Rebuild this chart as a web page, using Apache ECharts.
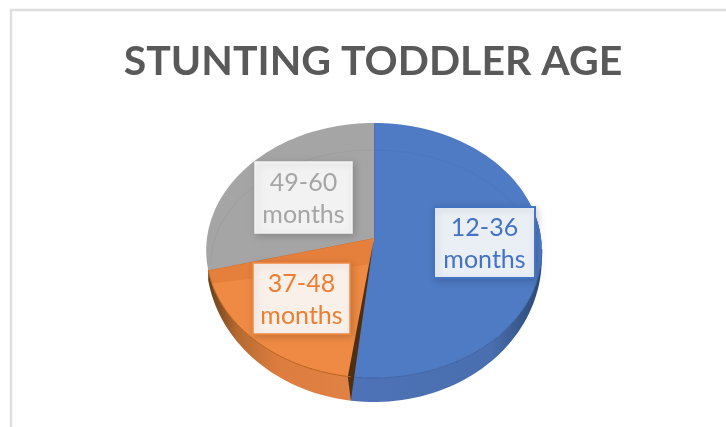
<!DOCTYPE html>
<html>
<head>
<meta charset="utf-8">
<style>
  html, body { margin: 0; padding: 0; background: #fff; }
  #chart { width: 726px; height: 427px; }
</style>
</head>
<body>
<div id="chart"></div>
<script src="https://cdn.jsdelivr.net/npm/echarts@6/dist/echarts.min.js"></script>
<script>
const categories = ["12-36 months", "37-48 months", "49-60 months"];
const shares = [52, 19, 29];

const topColors = ["#4f7bc5", "#e5803c", "#a5a5a5"];
const labelColors = ["#4472c4", "#ed7d31", "#a5a5a5"];
// x, y, w, h of each label box
const labelBoxes = [
  [434, 207, 101, 71],
  [253, 263, 97, 71],
  [255, 162, 97, 71],
];

// perspective disc: apex of the slices, half width, depth
const cx = 374, cy = 238, rx = 167, ry = 126.3, persp = 0.098, depth = 24;

function rim(deg) {
  const a = (deg * Math.PI) / 180;
  const u = Math.sin(a), v = -Math.cos(a);
  const s = 1 / (1 - persp * v);
  return [cx + rx * u * s, cy + ry * v * s, v];
}
function wallDepth(v) {
  return depth * Math.max(0, Math.min(1, (v + 0.3) / 1.3));
}
function arcPoints(from, to) {
  const pts = [];
  const n = Math.max(2, Math.ceil((to - from) / 2));
  for (let i = 0; i <= n; i++) pts.push(rim(from + ((to - from) * i) / n));
  return pts;
}
function wallPoints(from, to) {
  const arc = arcPoints(from, to);
  const lower = arc.map((p) => [p[0], p[1] + wallDepth(p[2])]).reverse();
  return arc.map((p) => [p[0], p[1]]).concat(lower);
}
function lerp(a, b, t) {
  return [a[0] + (b[0] - a[0]) * t, a[1] + (b[1] - a[1]) * t];
}
function hgrad(x1, x2, stops) {
  return new echarts.graphic.LinearGradient(x1, 0, x2, 0, stops, true);
}

const total = shares.reduce((a, b) => a + b, 0);
const starts = [];
shares.reduce((acc, s, i) => ((starts[i] = (acc / total) * 360), acc + s), 0);

function renderSlice(params, api) {
  const i = params.dataIndex;
  const from = starts[i];
  const to = from + (api.value(1) / total) * 360;
  const children = [];
  const apex = [cx, cy];
  const outline = arcPoints(from, to).map((p) => [p[0], p[1]]);

  if (i === 0) {
    children.push({
      type: "polygon",
      shape: { points: wallPoints(80, to) },
      style: {
        fill: hgrad(352, 545, [
          { offset: 0, color: "#4d72b6" },
          { offset: 0.72, color: "#4a6fb0" },
          { offset: 1, color: "#2a466f" },
        ]),
      },
    });
  }
  if (i === 1) {
    children.push({
      type: "polygon",
      shape: { points: wallPoints(from, to) },
      style: {
        fill: hgrad(205, 352, [
          { offset: 0, color: "#5f3a18" },
          { offset: 0.22, color: "#b56a30" },
          { offset: 0.5, color: "#dd7d3e" },
          { offset: 1, color: "#e08244" },
        ]),
      },
    });
  }

  children.push({
    type: "polygon",
    shape: { points: [apex].concat(outline) },
    style: { fill: topColors[i] },
  });

  if (i === 1) {
    // lighter inner face of the orange slice
    const a = rim(from), b = rim(to);
    const light = arcPoints(from, to - 6).map((p) => [p[0], p[1]]);
    light.push(lerp(apex, a, 0.19));
    children.push({
      type: "polygon",
      shape: { points: light },
      style: { fill: "#ee8a43" },
    });
    // dark cut face next to the blue slice
    const low = [a[0], a[1] + wallDepth(a[2])];
    children.push({
      type: "polygon",
      shape: { points: [apex, low, [a[0] - 3, a[1]]] },
      style: { fill: "#4e2f12" },
    });
    children.push({
      type: "polyline",
      shape: { points: [[b[0], b[1]], apex] },
      style: { stroke: "#c96c2d", lineWidth: 1, fill: null },
    });
    children.push({
      type: "polyline",
      shape: { points: outline },
      style: { stroke: "#b8621f", lineWidth: 1, fill: null },
    });
  }

  if (i === 0) {
    // blue face runs over the dark cut down to the disc bottom
    const a = rim(to);
    const low = [a[0], a[1] + wallDepth(a[2])];
    children.push({
      type: "polygon",
      shape: { points: [apex, low, [a[0] + 1, a[1]]] },
      style: { fill: topColors[0] },
    });
    children.push({
      type: "polyline",
      shape: { points: arcPoints(95, to).map((p) => [p[0], p[1]]) },
      style: { stroke: "#3d62a4", lineWidth: 1, fill: null },
    });
    children.push({
      type: "polyline",
      shape: { points: [[cx, cy - 115], apex] },
      style: { stroke: "#4069b2", lineWidth: 1, fill: null },
    });
  }

  // faint bevel ring on the upper half
  if (i !== 1) {
    const ring = [];
    const r0 = i === 0 ? 0 : 270;
    const r1 = i === 0 ? 90 : 360;
    for (let d = r0; d <= r1; d += 3) {
      const a = (d * Math.PI) / 180;
      ring.push([cx + 163 * Math.sin(a), 263 - 113 * Math.cos(a)]);
    }
    children.push({
      type: "polyline",
      shape: { points: ring },
      style: { stroke: i === 0 ? "#4b77c1" : "#9f9f9f", lineWidth: 1, fill: null },
    });
  }
  return { type: "group", children };
}

function renderLabel(params, api) {
  const i = params.dataIndex;
  const b = labelBoxes[i];
  return {
    type: "group",
    children: [
      {
        type: "rect",
        shape: { x: b[0], y: b[1], width: b[2], height: b[3] },
        style: {
          fill: "rgba(255,255,255,0.89)",
          stroke: i === 0 ? "#4472c4" : i === 1 ? "#f08a45" : "#f2f2f2",
          lineWidth: i === 0 ? 2 : 1.5,
          shadowBlur: 7,
          shadowOffsetX: 2,
          shadowOffsetY: 2,
          shadowColor: "rgba(0,0,0,0.18)",
        },
      },
      {
        type: "text",
        style: {
          x: b[0] + b[2] / 2,
          y: b[1] + b[3] / 2 + 1,
          text: categories[i].replace(" ", "\n"),
          fill: labelColors[i],
          font: "25px Lato",
          lineHeight: 32,
          align: "center",
          verticalAlign: "middle",
        },
      },
    ],
  };
}

const chart = echarts.init(document.getElementById("chart"), null, { renderer: "canvas" });
chart.setOption({
  animation: false,
  backgroundColor: "#fff",
  title: {
    text: "STUNTING TODDLER AGE",
    left: 368,
    textAlign: "center",
    top: 36,
    textStyle: { fontFamily: "Lato", fontWeight: "bold", fontSize: 41, color: "#595959" },
  },
  graphic: [
    {
      type: "rect",
      silent: true,
      shape: { x: 11, y: 10, width: 800, height: 500 },
      style: { fill: null, stroke: "#dedede", lineWidth: 2.5 },
    },
  ],
  series: [
    {
      type: "custom",
      coordinateSystem: "none",
      silent: true,
      renderItem: renderSlice,
      data: categories.map((c, i) => [i, shares[i]]),
    },
    {
      type: "custom",
      coordinateSystem: "none",
      silent: true,
      renderItem: renderLabel,
      data: categories.map((c, i) => [i, shares[i]]),
    },
  ],
});
</script>
</body>
</html>
